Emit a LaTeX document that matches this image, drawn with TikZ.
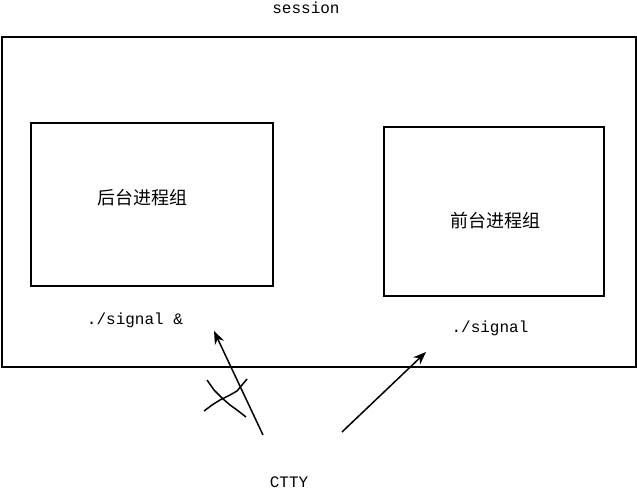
\documentclass[tikz,border=0pt]{standalone}
\usepackage{fontspec}
\usetikzlibrary{arrows.meta}
\setmonofont{Liberation Mono}
\newfontfamily\cjk{Noto Sans CJK SC}
\tikzset{
  grp/.style={draw, line width=1.6pt, inner sep=0pt},
  lbl/.style={font=\ttfamily\fontsize{16}{16}\selectfont, inner sep=0pt},
  cn/.style={font=\cjk\fontsize{18}{18}\selectfont, inner sep=0pt},
  sig/.style={-{Stealth[length=13pt,width=10pt]}, line width=1.5pt},
  crossout/.style={line width=1.5pt}
}
\begin{document}
\begin{tikzpicture}[x=1pt,y=-1pt]
\useasboundingbox (0,0) rectangle (637,489);
\node[grp, minimum width=634pt, minimum height=330pt] (session) at (319,202) {};
\node[grp, minimum width=242pt, minimum height=163pt] (bg) at (152,204.5) {};
\node[grp, minimum width=220pt, minimum height=169pt] (fg) at (494,211.5) {};
\node[lbl] (sname) at (306,8) {session};
\node[cn] (bgname) at (142,198) {后台进程组};
\node[cn] (fgname) at (495,221) {前台进程组};
\node[lbl] (bgcmd) at (135,320) {./signal \&};
\node[lbl] (fgcmd) at (490,328) {./signal};
\node[lbl] (ctty) at (289,482) {CTTY};
\coordinate (t1) at (263,435);
\coordinate (h1) at (214,331);
\coordinate (t2) at (342,432);
\coordinate (h2) at (426,352);
\draw[sig] (t1) -- (h1);
\draw[sig] (t2) -- (h2);
\draw[crossout] (207,380) -- (214,390) -- (222,398) -- (230,405) -- (237,410) -- (246,417);
\draw[crossout] (204,411) -- (212,405) -- (220,400) -- (230,395) -- (237,391) -- (247,379);
\end{tikzpicture}
\end{document}
